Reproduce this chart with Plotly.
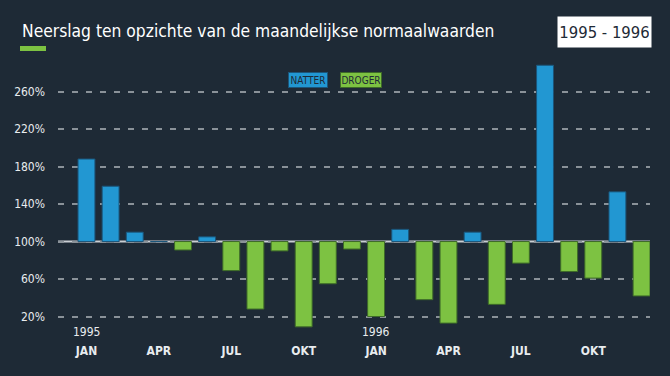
import plotly.graph_objects as go

months = ["JAN", "FEB", "MRT", "APR", "MEI", "JUN", "JUL", "AUG", "SEP", "OKT", "NOV", "DEC"]
years = ["1995", "1996"]
# precipitation as % of monthly normal, Jan 1995 .. Dec 1996
values = [188, 159, 110, 100, 91, 105, 69, 28, 90, 9, 55, 92,
          20, 113, 38, 13, 110, 33, 77, 288, 68, 61, 153, 42]
tick_months = ["JAN", "APR", "JUL", "OKT"]
y_ticks = [20, 60, 100, 140, 180, 220, 260]
normal = 100

BG = "#1e2a36"
BLUE = "#2297d2"
GREEN = "#7dc242"
TXT = "#e8ecef"
FONT = "DejaVu Sans Condensed, DejaVu Sans, sans-serif"

idx = list(range(len(values)))
colors = [BLUE if v >= normal else GREEN for v in values]
lines = ["#1b557a" if v >= normal else "#3d6a28" for v in values]

fig = go.Figure()
fig.add_trace(go.Bar(
    x=idx, y=[v - normal for v in values], base=normal,
    marker=dict(color=colors, line=dict(color=lines, width=1)),
    width=0.7, showlegend=False,
    hovertemplate="%{customdata}%<extra></extra>", customdata=values,
))

tickvals = [i for i in idx if months[i % 12] in tick_months]
ticktext = [months[i % 12] for i in tickvals]

fig.update_layout(
    width=670, height=376,
    paper_bgcolor=BG, plot_bgcolor=BG,
    margin=dict(l=58, r=20, t=54, b=36),
    font=dict(family=FONT, color=TXT, size=12),
    xaxis=dict(range=[-1.18, 23.35], tickvals=tickvals, ticktext=ticktext,
               showgrid=False, zeroline=False, showline=False, ticks="",
               ticklabelstandoff=2,
               tickfont=dict(family=FONT, size=12, color=TXT, weight="bold")),
    yaxis=dict(range=[-5, 300], tickvals=y_ticks,
               ticktext=[f"{t}%" for t in y_ticks],
               showgrid=True, gridcolor="#8a9299", gridwidth=2,
               griddash="6px,8px", zeroline=False, showline=False, ticks="",
               ticklabelstandoff=12, tickfont=dict(family=FONT, size=12, color=TXT)),
)

fig.add_shape(type="line", xref="paper", x0=0, x1=1, yref="y", y0=normal, y1=normal,
              line=dict(color="#c9ced3", width=2), layer="below")

for k, yr in enumerate(years):
    fig.add_annotation(x=12 * k, y=3.7, xref="x", yref="y", text=yr, showarrow=False,
                       font=dict(family=FONT, size=12, color=TXT), yanchor="middle")

fig.add_annotation(x=20, y=376 - 31, text="Neerslag ten opzichte van de maandelijkse normaalwaarden",
                   showarrow=False, xanchor="left", yanchor="middle",
                   font=dict(family=FONT, size=17.3, color="#ffffff"))
fig.add_annotation(x=604.5, y=376 - 32, text="1995 - 1996", showarrow=False,
                   xanchor="center", yanchor="middle", bgcolor="#ffffff",
                   width=89, height=26, borderpad=2,
                   font=dict(family=FONT, size=16.5, color=BG))
fig.add_annotation(x=307.5, y=376 - 72, text="NATTER", showarrow=False, bgcolor=BLUE,
                   bordercolor="#1b557a", borderwidth=1, borderpad=0,
                   width=38, height=14,
                   font=dict(family=FONT, size=10, color=BG))
fig.add_annotation(x=361, y=376 - 72, text="DROGER", showarrow=False, bgcolor=GREEN,
                   bordercolor="#3d6a28", borderwidth=1, borderpad=0,
                   width=40, height=14,
                   font=dict(family=FONT, size=10, color=BG))

pw, ph = 670 - 58 - 20, 376 - 54 - 36
for a in fig.layout.annotations[2:]:
    a.xref = "paper"; a.yref = "paper"
    a.x = (a.x - 58) / pw
    a.y = (a.y - 36) / ph

fig.add_shape(type="rect", xref="paper", yref="paper",
              x0=(20 - 58) / pw, x1=(46 - 58) / pw,
              y0=(376 - 51 - 36) / ph, y1=(376 - 46 - 36) / ph,
              fillcolor=GREEN, line=dict(width=0))

fig.write_html("out.html", config={"displayModeBar": False},
               post_script="document.body.style.margin='0';document.body.style.padding='0';")
